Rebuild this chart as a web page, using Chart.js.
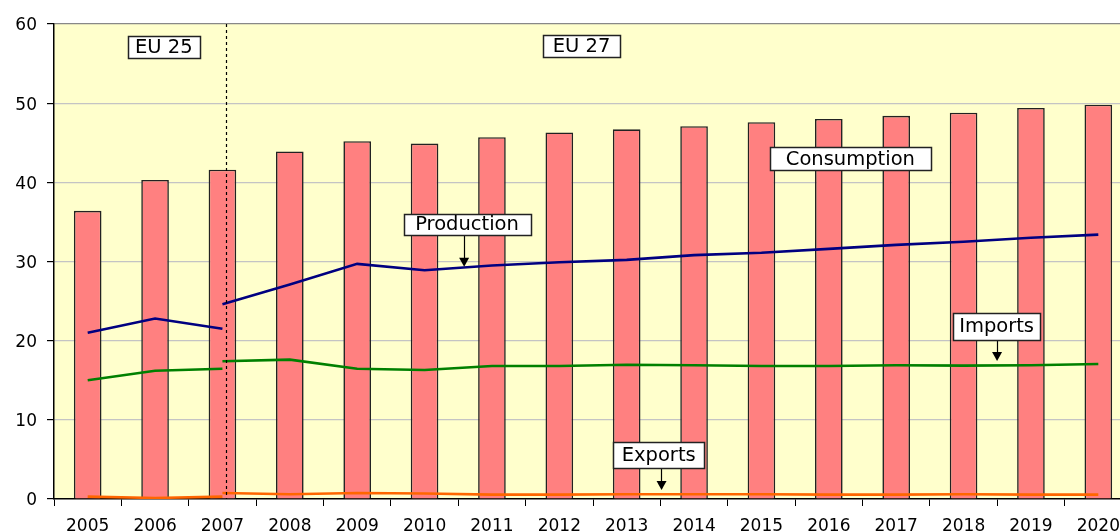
<!DOCTYPE html>
<html><head><meta charset="utf-8">
<script src="https://cdn.jsdelivr.net/npm/chart.js@4"></script>
<style>
html,body{margin:0;padding:0;background:#fff;overflow:hidden;width:1120px;height:532px}
#wrap{width:1140px;height:532px;position:relative}
canvas{display:block}
</style></head>
<body><div id="wrap"><canvas id="c" width="1140" height="532"></canvas></div>
<script>
const years = ['2005','2006','2007','2008','2009','2010','2011','2012','2013','2014','2015','2016','2017','2018','2019','2020'];
const consumption = [36.4,40.3,41.6,43.9,45.2,44.9,45.7,46.3,46.7,47.1,47.6,48.0,48.4,48.8,49.4,49.8];
const productionEU25 = [21.0,22.8,21.5,null,null,null,null,null,null,null,null,null,null,null,null,null];
const productionEU27 = [null,null,24.6,27.1,29.7,28.9,29.5,29.9,30.2,30.8,31.1,31.6,32.1,32.5,33.0,33.4];
const importsEU25 = [15.0,16.2,16.45,null,null,null,null,null,null,null,null,null,null,null,null,null];
const importsEU27 = [null,null,17.4,17.6,16.45,16.3,16.8,16.8,16.95,16.9,16.8,16.8,16.9,16.85,16.9,17.05];
const exportsEU25 = [0.3,0.13,0.3,null,null,null,null,null,null,null,null,null,null,null,null,null];
const exportsEU27 = [null,null,0.75,0.6,0.75,0.7,0.55,0.55,0.6,0.6,0.6,0.55,0.55,0.6,0.55,0.55];
const yTicks = [0,10,20,30,40,50,60];

// annotation boxes: position in category-index / value units
const notes = [
  {text:'EU 25', x:1.13, y:57.1, w:72, h:22},
  {text:'EU 27', x:7.33, y:57.2, w:77, h:22},
  {text:'Production', x:5.63, y:34.73, w:127, h:21, ax:5.58, ay:29.35},
  {text:'Consumption', x:11.32, y:43.0, w:161, h:23},
  {text:'Imports', x:13.49, y:21.85, w:87, h:27, ax:13.49, ay:17.43},
  {text:'Exports', x:8.475, y:5.56, w:91, h:26, ax:8.51, ay:1.14}
];
const dividerIndex = 2.06;

const FONT = '"DejaVu Sans", sans-serif';

const plotBg = {
  id:'plotBg',
  beforeDraw(chart){
    const {ctx, chartArea:a} = chart;
    ctx.save();
    ctx.fillStyle = '#FFFFCC';
    ctx.fillRect(a.left, a.top, a.right-a.left, a.bottom-a.top);
    ctx.restore();
  }
};

const notesPlugin = {
  id:'notes',
  afterDraw(chart){
    const {ctx, chartArea:a} = chart;
    const xs = chart.scales.x, ys = chart.scales.y;
    const step = (xs.getPixelForValue(1) - xs.getPixelForValue(0));
    const xp = v => xs.getPixelForValue(0) + v*step;
    ctx.save();
    // dashed divider
    ctx.strokeStyle = '#000';
    ctx.lineWidth = 1.2;
    ctx.setLineDash([3,3]);
    ctx.beginPath();
    const dx = Math.round(xp(dividerIndex)) + 0.5;
    ctx.moveTo(dx, a.top);
    ctx.lineTo(dx, a.bottom);
    ctx.stroke();
    ctx.setLineDash([]);
    for (const n of notes){
      const cx = xp(n.x), cy = ys.getPixelForValue(n.y);
      const l = Math.round(cx - n.w/2)+0.5, t = Math.round(cy - n.h/2)+0.5;
      if (n.ax !== undefined){
        const axp = xp(n.ax), ayp = ys.getPixelForValue(n.ay);
        ctx.strokeStyle = '#000'; ctx.lineWidth = 1.2;
        ctx.beginPath();
        ctx.moveTo(Math.round(axp)+0.5, t + n.h);
        ctx.lineTo(Math.round(axp)+0.5, ayp - 7);
        ctx.stroke();
        ctx.fillStyle = '#000';
        ctx.beginPath();
        ctx.moveTo(axp+0.5, ayp);
        ctx.lineTo(axp-4.5, ayp-9);
        ctx.lineTo(axp+5.5, ayp-9);
        ctx.closePath();
        ctx.fill();
      }
      ctx.fillStyle = '#fff';
      ctx.fillRect(l, t, n.w, n.h);
      ctx.strokeStyle = '#222';
      ctx.lineWidth = 1.5;
      ctx.strokeRect(l, t, n.w, n.h);
      ctx.fillStyle = '#000';
      ctx.font = '19.5px ' + FONT;
      ctx.textAlign = 'center';
      ctx.textBaseline = 'middle';
      ctx.fillText(n.text, cx, cy + 1);
    }
    ctx.restore();
  }
};

function lineDs(data, color){
  return {type:'line', data, borderColor:color, backgroundColor:color, borderWidth:2.6,
    pointRadius:0, pointHoverRadius:0, tension:0, spanGaps:false, order:0, fill:false};
}

new Chart(document.getElementById('c'), {
  type:'bar',
  data:{
    labels: years,
    datasets:[
      {type:'bar', label:'Consumption', data:consumption, backgroundColor:'#FF8080', borderColor:'#222',
       borderWidth:1.6, barPercentage:0.41, categoryPercentage:1, order:2, borderSkipped:'bottom'},
      lineDs(productionEU25,'#000080'),
      lineDs(productionEU27,'#000080'),
      lineDs(importsEU25,'#008000'),
      lineDs(importsEU27,'#008000'),
      lineDs(exportsEU25,'#FF6600'),
      lineDs(exportsEU27,'#FF6600')
    ]
  },
  options:{
    responsive:false,
    devicePixelRatio:1,
    animation:false,
    layout:{padding:{top:24,right:8,left:0,bottom:0}},
    plugins:{legend:{display:false}, tooltip:{enabled:false}},
    scales:{
      x:{
        offset:true,
        grid:{drawOnChartArea:false, drawTicks:true, tickLength:7, tickColor:'#000', offset:true},
        border:{color:'#000', width:1.5},
        ticks:{color:'#000', font:{family:FONT, size:17}, padding:10, maxRotation:0, autoSkip:false},
        afterFit(s){ s.height = 33; }
      },
      y:{
        min:0, max:60,
        afterBuildTicks(s){ s.ticks = yTicks.map(v=>({value:v})); },
        grid:{
          color:(c)=> c.tick && c.tick.value===60 ? '#888888' : (c.tick && c.tick.value===0 ? 'rgba(0,0,0,0)' : '#c4c4c4'),
          lineWidth:1.2, tickLength:7, tickColor:'#000', drawTicks:true
        },
        border:{color:'#000', width:1.5},
        ticks:{color:'#000', font:{family:FONT, size:17}, padding:10, labelOffset:2},
        afterFit(s){ s.width = 54; }
      }
    }
  },
  plugins:[plotBg, notesPlugin]
});
</script>
</body></html>
